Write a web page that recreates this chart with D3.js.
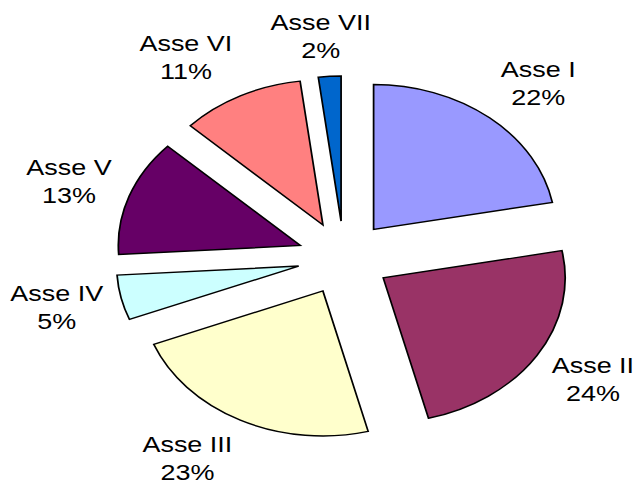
<!DOCTYPE html>
<html>
<head>
<meta charset="utf-8">
<script src="https://cdn.jsdelivr.net/npm/d3@7"></script>
<style>
  body { margin: 0; background: #fff; }
  text { font-family: "Liberation Sans", Arial, sans-serif; font-size: 21.5px; fill: #000; }
</style>
</head>
<body>
<svg id="pieChart" width="637" height="480"></svg>
<script>
// Chart data
var categories = ["Asse I", "Asse II", "Asse III", "Asse IV", "Asse V", "Asse VI", "Asse VII"];
var values = [22, 24, 23, 5, 13, 11, 2];
var colors = ["#9999FF", "#993366", "#FFFFCC", "#CCFFFF", "#660066", "#FF8080", "#0066CC"];

var data = categories.map(function(c, i) {
    return { name: c, value: values[i], color: colors[i] };
});

// Dimensions (the reference pie is stretched horizontally)
var radius = 145;
var explode = 37;
var labelRadius = 196;
var stretchX = 1.255;

var svg = d3.select("#pieChart")
    .append("g")
    .attr("transform", "translate(344,258) scale(" + stretchX + ",1)");

var pie = d3.pie()
    .sort(null)
    .value(function(d) { return d.value; });

var arc = d3.arc()
    .innerRadius(0)
    .outerRadius(radius);

var total = d3.sum(values);
var arcs = pie(data);

function midAngle(d) { return (d.startAngle + d.endAngle) / 2; }
function clamp(v) { return Math.max(-1, Math.min(1, v)); }

// Slices, each pushed out along its middle angle
svg.selectAll(".slice")
    .data(arcs)
    .enter()
    .append("path")
    .attr("class", "slice")
    .attr("d", arc)
    .attr("transform", function(d) {
        var mid = midAngle(d);
        return "translate(" + (Math.sin(mid) * explode) + "," + (-Math.cos(mid) * explode) + ")";
    })
    .style("fill", function(d) { return d.data.color; })
    .style("stroke", "#000")
    .style("stroke-width", 1.4)
    .style("stroke-linejoin", "miter");

// Labels: box sits outside an anchor point on the middle angle
var labels = svg.selectAll(".label")
    .data(arcs)
    .enter()
    .append("text")
    .attr("class", "label")
    .attr("text-anchor", "middle");

labels.append("tspan")
    .attr("x", 0)
    .attr("y", 0)
    .text(function(d) { return d.data.name; });

labels.append("tspan")
    .attr("x", 0)
    .attr("y", 28)
    .text(function(d) { return Math.round(d.data.value / total * 100) + "%"; });

labels.attr("transform", function(d) {
    var mid = midAngle(d);
    var box = this.getBBox();
    var ax = Math.sin(mid) * labelRadius;
    var ay = -Math.cos(mid) * labelRadius;
    var cx = ax + box.width / 2 * clamp(2.5 * Math.sin(mid));
    var cy = ay + box.height / 2 * clamp(-1.2 * Math.cos(mid));
    return "translate(" + (cx - (box.x + box.width / 2)) + "," + (cy - (box.y + box.height / 2)) + ")";
});
</script>
</body>
</html>
